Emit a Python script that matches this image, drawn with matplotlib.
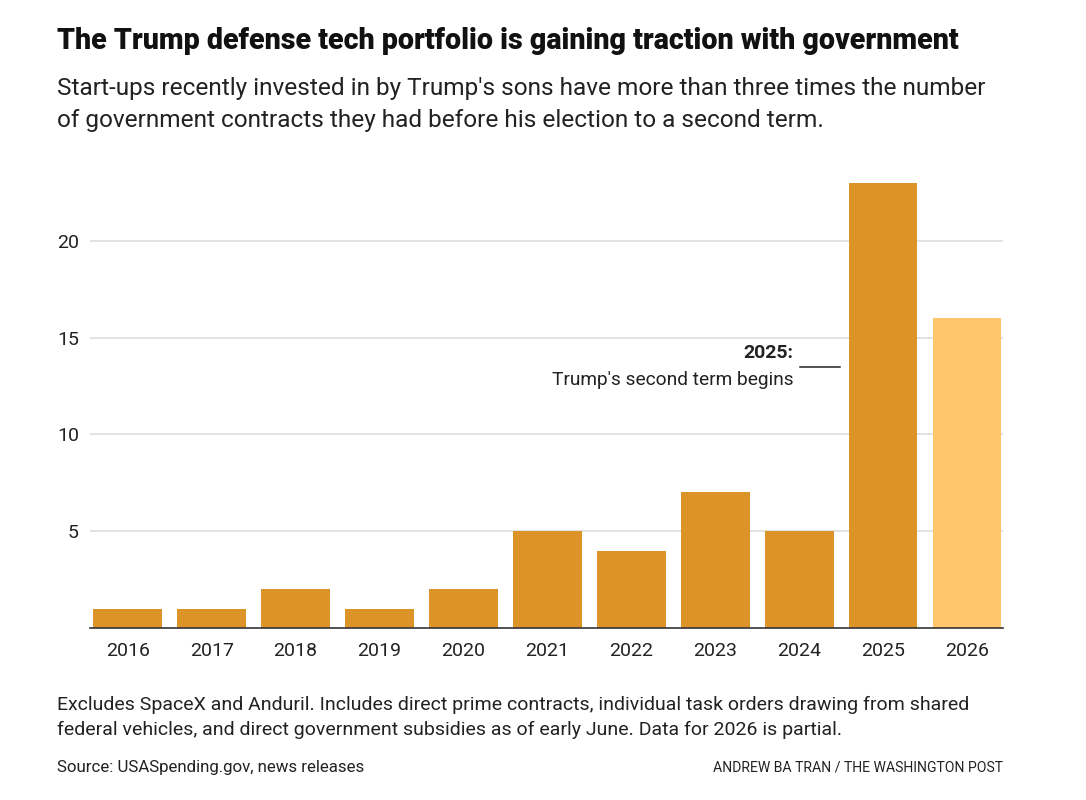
import matplotlib
matplotlib.use("Agg")
import matplotlib.pyplot as plt

# data
years = ["2016", "2017", "2018", "2019", "2020", "2021", "2022", "2023", "2024", "2025", "2026"]
contracts = [1, 1, 2, 1, 2, 5, 4, 7, 5, 23, 16]
partial_year = "2026"
y_ticks = [5, 10, 15, 20]

title = "The Trump defense tech portfolio is gaining traction with government"
subtitle = ("Start-ups recently invested in by Trump's sons have more than three times the number\n"
            "of government contracts they had before his election to a second term.")
note = ("Excludes SpaceX and Anduril. Includes direct prime contracts, individual task orders drawing from shared\n"
        "federal vehicles, and direct government subsidies as of early June. Data for 2026 is partial.")
source = "Source: USASpending.gov, news releases"
credit = "ANDREW BA TRAN / THE WASHINGTON POST"

plt.rcParams['font.family'] = ['Roboto', 'DejaVu Sans']

fig = plt.figure(figsize=(10.86, 8), dpi=100)
ax = fig.add_axes([0.0829, 0.215, 0.8407, 0.5808])

colors = ['#FEC56A' if y == partial_year else '#DC9429' for y in years]
x = list(range(len(years)))
ax.bar(x, contracts, width=0.82, color=colors, zorder=3)

ax.set_xlim(-0.45, 10.43)
ax.set_ylim(0, 24)
ax.set_yticks(y_ticks)
ax.set_xticks(x)
ax.set_xticklabels(years)
ax.grid(axis='y', color='#dddddd', linewidth=1.2, zorder=0)
ax.tick_params(axis='both', length=0, labelsize=14, colors='#222222')
ax.tick_params(axis='x', pad=10)
ax.tick_params(axis='y', pad=8)
for s in ['top', 'right', 'left']:
    ax.spines[s].set_visible(False)
ax.spines['bottom'].set_color('#333333')
ax.spines['bottom'].set_linewidth(1.2)
ax.spines['bottom'].set_zorder(4)

# annotation for 2025
ax.text(7.93, 14.2, "2025:", ha='right', va='center', fontsize=14, fontweight='bold', color='#222222')
ax.plot([8.01, 8.49], [13.48, 13.48], color='#222222', linewidth=1.1, clip_on=False)
ax.text(7.93, 12.8, "Trump's second term begins", ha='right', va='center', fontsize=13.8, color='#222222')

fig.text(0.0525, 0.949, title, fontsize=20.6, fontweight='heavy', color='#111111', va='center')
fig.text(0.0525, 0.87, subtitle, fontsize=17.6, color='#222222', va='center', linespacing=1.5)
fig.text(0.0525, 0.103, note, fontsize=14, color='#222222', va='center', linespacing=1.45)
fig.text(0.0525, 0.041, source, fontsize=12.2, color='#222222', va='center')
fig.text(0.9236, 0.041, credit, fontsize=10.1, color='#222222', va='center', ha='right')

fig.savefig("out.png", dpi=100, facecolor='white')
